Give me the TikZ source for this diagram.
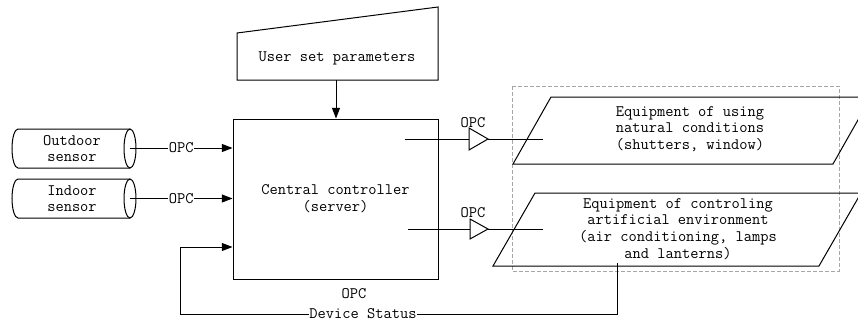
\documentclass[tikz,border=0pt]{standalone}
\usepackage{fontspec}
\usetikzlibrary{arrows.meta}
\begin{document}
\begin{tikzpicture}[x=0.75pt,y=-0.75pt,
  every node/.style={font=\ttfamily\fontsize{12pt}{12.5pt}\selectfont, inner sep=0pt},
  ln/.style={line width=0.75pt, black},
  arr/.style={ln, -{Triangle[length=8pt,width=6pt]}},
  lbl/.style={fill=white, inner sep=0.5pt},
  txt/.style={align=center}
]
\path[use as bounding box] (0,0) rectangle (858,325);
\clip (0,0) rectangle (858,325);

% sensors (horizontal cylinders)
\draw[ln] (130,129) -- (18,129) arc[start angle=270,end angle=90,x radius=6,y radius=19.5] -- (130,168);
\draw[ln] (130,148.5) ellipse[x radius=6,y radius=19.5];
\node[txt] (outdoor) at (72,148.5) {Outdoor\\sensor};
\coordinate (outE) at (130,148);

\draw[ln] (130,179) -- (18,179) arc[start angle=270,end angle=90,x radius=6,y radius=19.5] -- (130,218);
\draw[ln] (130,198.5) ellipse[x radius=6,y radius=19.5];
\node[txt] (indoor) at (72,198.5) {Indoor\\sensor};
\coordinate (inE) at (130,198.5);

% central controller
\node[draw, ln, minimum width=153.75pt, minimum height=120pt, txt] (ctrl) at (335.5,199) {Central controller\\(server)};

% user set parameters
\draw[ln] (237,33) -- (438,7) -- (438,80) -- (237,80) -- cycle;
\node (user) at (337,58) {User set parameters};
\coordinate (userS) at (336,80);
\draw[arr] (userS) -- (userS |- ctrl.north);

% sensor connectors
\draw[arr] (outE) -- (outE -| ctrl.west) node[lbl, pos=0.5] {OPC};
\draw[arr] (inE) -- (inE -| ctrl.west) node[lbl, pos=0.5] {OPC};

% dashed group
\draw[gray!70, line width=0.6pt, dash pattern=on 3pt off 1.5pt] (512,86) rectangle (839,271);

% equipment parallelograms
\draw[ln] (551,97) -- (871,97) -- (833,164) -- (513,164) -- cycle;
\node[txt] (nat) at (690,129) {Equipment of using\\natural conditions\\(shutters, window)};
\draw[ln] (535,193) -- (861,193) -- (819,266) -- (493,266) -- cycle;
\node[txt] (art) at (678,229) {Equipment of controling\\artificial environment\\(air conditioning, lamps\\and lanterns)};

% OPC outputs
\coordinate (o1s) at (405,139);
\coordinate (t1) at (469,139);
\coordinate (t1a) at (488,139);
\coordinate (o1e) at (543,139);
\draw[ln] (o1s) -- (t1);
\draw[ln] (469,128) -- (t1a) -- (469,150) -- cycle;
\draw[ln] (t1a) -- (o1e);
\node (opc1) at (473,123) {OPC};

\coordinate (o2s) at (408,229);
\coordinate (t2) at (470,229);
\coordinate (t2a) at (488,229);
\coordinate (o2e) at (543,229);
\draw[ln] (o2s) -- (t2);
\draw[ln] (470,219) -- (t2a) -- (470,239) -- cycle;
\draw[ln] (t2a) -- (o2e);
\node (opc2) at (473,213) {OPC};

% feedback loop
\coordinate (fbA) at (617,263);
\coordinate (fbB) at (617,314);
\coordinate (fbC) at (180,314);
\coordinate (fbD) at (180,247);
\draw[ln] (fbA) -- (fbB) -- (fbC) -- (fbD);
\draw[arr] (fbD) -- (fbD -| ctrl.west);
\node[lbl] (devstat) at (363,314) {Device Status};
\node (opc3) at (354,294) {OPC};
\end{tikzpicture}
\end{document}
